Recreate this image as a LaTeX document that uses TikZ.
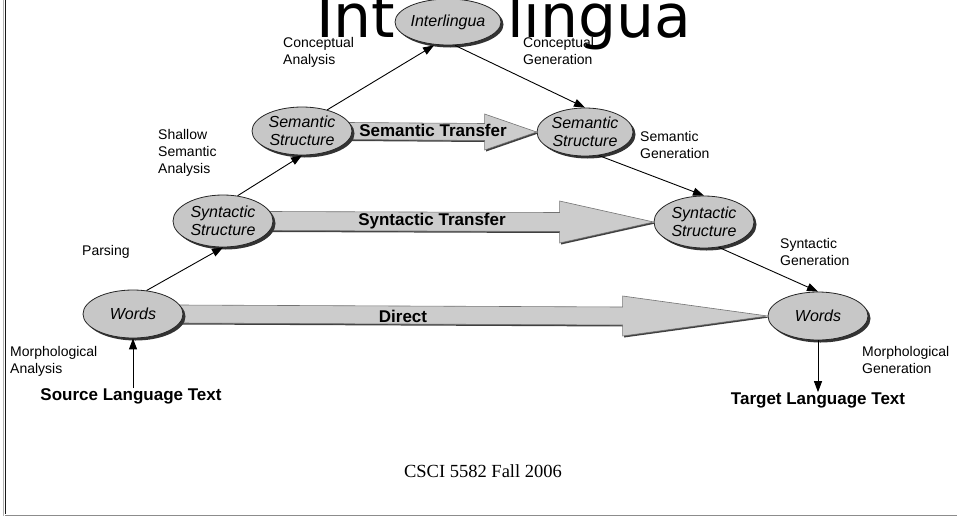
\documentclass[tikz,border=0pt]{standalone}
\usepackage{fontspec}
\setmainfont{Liberation Sans}
\newfontfamily\footfont{Liberation Serif}
\newfontfamily\titlefont{DejaVu Sans}
\usetikzlibrary{arrows.meta,shapes.geometric,shadows,backgrounds}

\begin{document}
\begin{tikzpicture}[x=1pt,y=-1pt,
  level/.style={ellipse,draw=black!85,line width=0.8pt,fill=black!22,
    minimum width=100pt,minimum height=48pt,inner sep=0pt,align=center,
    font=\fontsize{16}{17.5}\selectfont\itshape,
    drop shadow={shadow xshift=2.5pt,shadow yshift=-2.5pt,fill=black!80,opacity=1}},
  stage/.style={align=left,anchor=north west,inner sep=0pt,font=\fontsize{14}{17}\selectfont},
  conn/.style={line width=0.9pt,-{Triangle[length=11pt,width=8pt]}},
  fat/.style={draw=black!55,fill=black!20,line width=0.6pt,
    drop shadow={shadow xshift=1.5pt,shadow yshift=-1.5pt,fill=black!75,opacity=1}},
  fatlabel/.style={font=\bfseries\fontsize{17}{19}\selectfont,inner sep=0pt},
  textend/.style={font=\bfseries\fontsize{17}{19}\selectfont,inner sep=0pt}]
\useasboundingbox (0,0) rectangle (957,517);
\clip (0,0) rectangle (957,517);

% frame
\draw[black!30,line width=1pt] (3.5,0) -- (3.5,516);
\draw[black!90,line width=1.5pt] (5.5,0) -- (5.5,514);
\draw[black!45,line width=1pt] (5,515.5) -- (957,515.5);

\node[anchor=base west,inner sep=0pt,font=\titlefont\fontsize{60}{60}\selectfont] (title) at (316,37) {Int\kern22pt er\kern28pt lingua};

% levels
\node[level] (wl) at (133,314) {Words};
\node[level,minimum height=52pt] (syl) at (223,221) {Syntactic\\Structure};
\node[level] (sel) at (302,131) {Semantic\\Structure};
\node[level,minimum width=106pt,minimum height=46pt] (il) at (448,22) {Interlingua};
\node[level,minimum width=96pt] (ser) at (585,132) {Semantic\\Structure};
\node[level,minimum height=52pt] (syr) at (704,222) {Syntactic\\Structure};
\node[level] (wr) at (818,316) {Words};

% transfer arrows
\begin{scope}[on background layer]
\draw[fat] ([xshift=-4pt,yshift=9pt]wl.east) -- ([xshift=-145pt,yshift=9pt]wr.west) -- ([xshift=-145pt,yshift=20pt]wr.west)
  -- (wr.west) -- ([xshift=-145pt,yshift=-20pt]wr.west) -- ([xshift=-145pt,yshift=-9pt]wr.west) -- ([xshift=-4pt,yshift=-9pt]wl.east) -- cycle;
\draw[fat] ([xshift=-4pt,yshift=9.5pt]syl.east) -- ([xshift=-94pt,yshift=9.5pt]syr.west) -- ([xshift=-94pt,yshift=21pt]syr.west)
  -- (syr.west) -- ([xshift=-94pt,yshift=-21pt]syr.west) -- ([xshift=-94pt,yshift=-9.5pt]syr.west) -- ([xshift=-4pt,yshift=-9.5pt]syl.east) -- cycle;
\draw[fat] ([xshift=-4pt,yshift=8.5pt]sel.east) -- ([xshift=-52pt,yshift=8.5pt]ser.west) -- ([xshift=-52pt,yshift=18pt]ser.west)
  -- (ser.west) -- ([xshift=-52pt,yshift=-18pt]ser.west) -- ([xshift=-52pt,yshift=-8.5pt]ser.west) -- ([xshift=-4pt,yshift=-8.5pt]sel.east) -- cycle;
\end{scope}
\node[fatlabel] (direct) at (403,316) {Direct};
\node[fatlabel] (syntr) at (432,221) {Syntactic Transfer};
\node[fatlabel] (semtr) at (433,130) {Semantic Transfer};

% source and target
\node[textend] (src) at (131,396) {Source Language Text};
\node[textend] (tgt) at (818,400) {Target Language Text};
\draw[conn] (src.north -| wl.south) -- (wl.south);
\draw[conn] (wr.south) -- (wr.south |- tgt.north);

% analysis and generation
\draw[conn] (wl.60) -- (syl.south);
\draw[conn] (syl.60) -- (sel.south);
\draw[conn] (sel.40) -- ([xshift=-14pt]il.south);
\draw[conn] ([xshift=7pt]il.south) -- (ser.north);
\draw[conn] (ser.-60) -- (syr.north);
\draw[conn] (syr.-60) -- (wr.north);

\node[stage] (ma) at (10,346) {Morphological\\Analysis};
\node[stage] (pa) at (82,245) {Parsing};
\node[stage] (ssa) at (158,129) {Shallow\\Semantic\\Analysis};
\node[stage] (ca) at (283,37) {Conceptual\\Analysis};
\node[stage] (cg) at (523,37) {Conceptual\\Generation};
\node[stage] (sg) at (640,131) {Semantic\\Generation};
\node[stage] (syg) at (780,238) {Syntactic\\Generation};
\node[stage] (mg) at (862,346) {Morphological\\Generation};

\node[font=\footfont\fontsize{18.5}{20}\selectfont] (foot) at (483,471) {CSCI 5582 Fall 2006};
\end{tikzpicture}
\end{document}
